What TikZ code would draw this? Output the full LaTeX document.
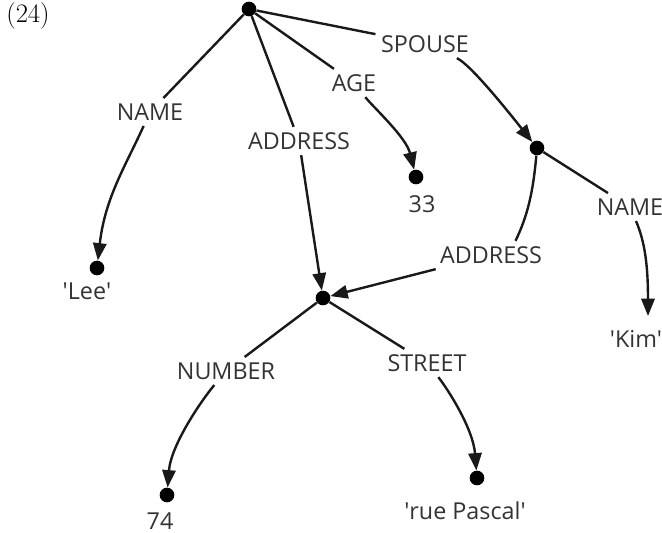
\documentclass[tikz,border=0pt]{standalone}
\usepackage{fontspec}
\newfontfamily\lblfont{Open Sans}
\usetikzlibrary{arrows.meta}

\begin{document}
\begin{tikzpicture}[
  x=0.75pt, y=-0.75pt,
  >={Triangle[length=13pt, width=10pt]},
  fsnode/.style={circle, fill=black, inner sep=0pt, minimum size=11pt},
  attr/.style={font=\lblfont\fontsize{17.5}{20}\selectfont, text=black!80, inner sep=4pt},
  atom/.style={font=\lblfont\fontsize{17.5}{20}\selectfont, text=black!80, inner sep=2pt},
  arc/.style={line width=1.8pt, black!90},
]
  \useasboundingbox (0,0) rectangle (662,533);

  %% Example number
  \node[font=\rmfamily\fontsize{20}{24}\selectfont] (exno) at (28,16) {(24)};

  %% Feature-structure nodes
  \node[fsnode] (root)   at (249,9)   {};
  \node[fsnode] (lee)    at (97,268)  {};
  \node[fsnode] (age)    at (416,177) {};
  \node[fsnode] (spouse) at (537,148) {};
  \node[fsnode] (addr)   at (323,298) {};
  \node[fsnode] (num74)  at (167,495) {};
  \node[fsnode] (street) at (477,478) {};
  \coordinate (kimpt) at (648,316);

  %% Atomic values
  \node[atom] (leev)    at (87,291)  {\textquotesingle Lee\textquotesingle};
  \node[atom] (agev)    at (422,204) {33};
  \node[atom] (kimv)    at (636,339) {\textquotesingle Kim\textquotesingle};
  \node[atom] (numv)    at (160,521) {74};
  \node[atom] (streetv) at (465,511) {\textquotesingle rue Pascal\textquotesingle};

  %% Attribute labels
  \node[attr] (name1)   at (150,112) {NAME};
  \node[attr] (addr1)   at (299,141) {ADDRESS};
  \node[attr] (age1)    at (354,83)  {AGE};
  \node[attr] (spouse1) at (425,44)  {SPOUSE};
  \node[attr] (name2)   at (630,207) {NAME};
  \node[attr] (addr2)   at (491,255) {ADDRESS};
  \node[attr] (number1) at (226,371) {NUMBER};
  \node[attr] (street1) at (427,363) {STREET};

  %% Arcs from the root
  \draw[arc] (root) -- (name1);
  \draw[arc, ->] (name1) .. controls +(-25,55) and +(8,-70) .. (lee);
  \draw[arc] (root) -- (addr1);
  \draw[arc, ->] (addr1) -- (addr);
  \draw[arc] (root) -- (age1);
  \draw[arc, ->] (age1) .. controls +(20,25) and +(-10,-40) .. (age);
  \draw[arc] (root) -- (spouse1);
  \draw[arc, ->] (spouse1) .. controls +(45,20) and +(-30,-38) .. (spouse);

  %% Arcs from the spouse
  \draw[arc] (spouse) -- (name2);
  \draw[arc, ->] (name2) .. controls +(15,35) and +(0,-50) .. (kimpt);
  \draw[arc] (spouse) .. controls +(-4,45) and +(12,-25) .. (addr2.30);
  \draw[arc, ->] (addr2) -- (addr);

  %% Arcs from the shared address
  \draw[arc] (addr) -- (number1);
  \draw[arc, ->] (number1) .. controls +(-25,30) and +(4,-50) .. (num74);
  \draw[arc] (addr) -- (street1);
  \draw[arc, ->] (street1) .. controls +(20,25) and +(-4,-50) .. (street);
\end{tikzpicture}
\end{document}
